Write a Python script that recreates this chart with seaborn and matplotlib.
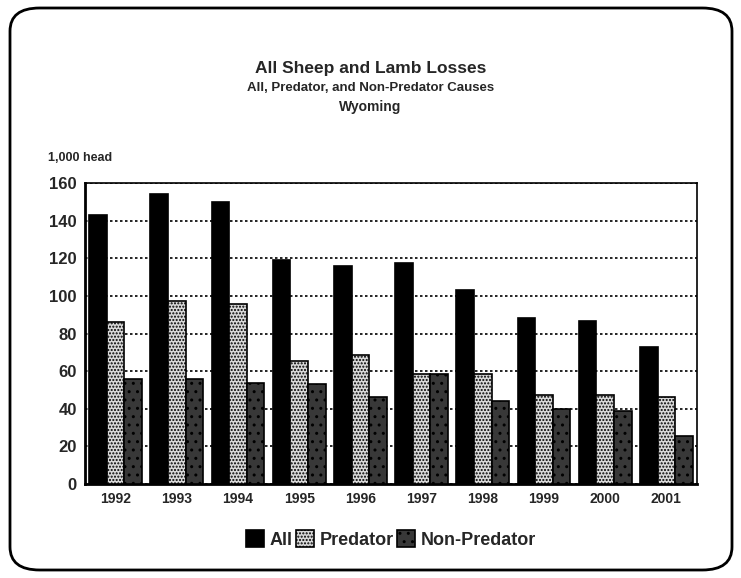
import pandas as pd
import matplotlib.pyplot as plt
import seaborn as sns
from matplotlib.patches import FancyBboxPatch

# data (1,000 head)
years = ['1992', '1993', '1994', '1995', '1996', '1997', '1998', '1999', '2000', '2001']
all_losses = [143, 154, 150, 119, 116, 117.5, 103, 88, 86.5, 73]
predator = [86, 97.5, 95.5, 65.5, 68.5, 58.5, 58.5, 47.5, 47.5, 46]
non_predator = [56, 56, 53.5, 53, 46, 58.5, 44, 40, 39, 25.5]
causes = ['All', 'Predator', 'Non-Predator']

df = pd.DataFrame({'year': years * 3,
                   'cause': ['All'] * 10 + ['Predator'] * 10 + ['Non-Predator'] * 10,
                   'value': all_losses + predator + non_predator})

sns.set_style('white')
plt.rcParams['font.family'] = ['Liberation Sans', 'DejaVu Sans']
plt.rcParams['font.weight'] = 'bold'
plt.rcParams['hatch.color'] = '#777777'

fig = plt.figure(figsize=(7.41, 5.78), dpi=100)
ax = fig.add_axes([85 / 741, 1 - 484 / 578, 612 / 741, 301 / 578])

# rounded frame around the whole chart
frame = FancyBboxPatch((10 / 741, 8 / 578), 722 / 741, 562 / 578,
                       boxstyle='round,pad=0,rounding_size=0.04',
                       transform=fig.transFigure, fill=False, lw=2, ec='black')
fig.patches.append(frame)

colors = {'All': '#000000', 'Predator': '#d9d9d9', 'Non-Predator': '#383838'}
sns.barplot(data=df, x='year', y='value', hue='cause', hue_order=causes,
            palette=colors, width=0.86, saturation=1, ax=ax, zorder=3)

hatches = {'All': '', 'Predator': '.....', 'Non-Predator': '..'}
for cont, cause in zip(ax.containers, causes):
    for bar in cont:
        bar.set_edgecolor('black')
        bar.set_linewidth(1.2)
        bar.set_hatch(hatches[cause])

ax.set_ylim(0, 160)
ax.set_yticks(range(0, 161, 20))
ax.yaxis.grid(True, linestyle=(0, (1.5, 1.5)), color='black', lw=1.2, zorder=0)
ax.set_axisbelow(True)
ax.set_xlabel('')
ax.set_ylabel('')
for s in ax.spines.values():
    s.set_color('black')
    s.set_linewidth(1.2)
ax.spines['left'].set_linewidth(2)
ax.spines['bottom'].set_linewidth(2)
ax.tick_params(axis='both', length=0, pad=6)
for lab in ax.get_yticklabels():
    lab.set_fontsize(12)
    lab.set_fontweight('bold')
for lab in ax.get_xticklabels():
    lab.set_fontsize(10)
    lab.set_fontweight('bold')

leg = ax.legend(loc='upper center', bbox_to_anchor=(0.5, -0.1), ncol=3, frameon=False,
                handlelength=1.0, handleheight=1.0, handletextpad=0.3, columnspacing=0.2,
                prop={'size': 13, 'weight': 'bold'})
for h, cause in zip(leg.legend_handles, causes):
    h.set_edgecolor('black')
    h.set_linewidth(1.2)
    h.set_hatch(hatches[cause])

fig.text(0.5, 1 - 69 / 578, 'All Sheep and Lamb Losses', ha='center', va='center',
         fontsize=12.5, fontweight='bold')
fig.text(0.5, 1 - 88 / 578, 'All, Predator, and Non-Predator Causes', ha='center',
         va='center', fontsize=9.5, fontweight='bold')
fig.text(0.5, 1 - 107 / 578, 'Wyoming', ha='center', va='center',
         fontsize=10, fontweight='bold')
fig.text(48 / 741, 1 - 158 / 578, '1,000 head', ha='left', va='center',
         fontsize=9, fontweight='bold')

fig.savefig('out.png', dpi=100)
